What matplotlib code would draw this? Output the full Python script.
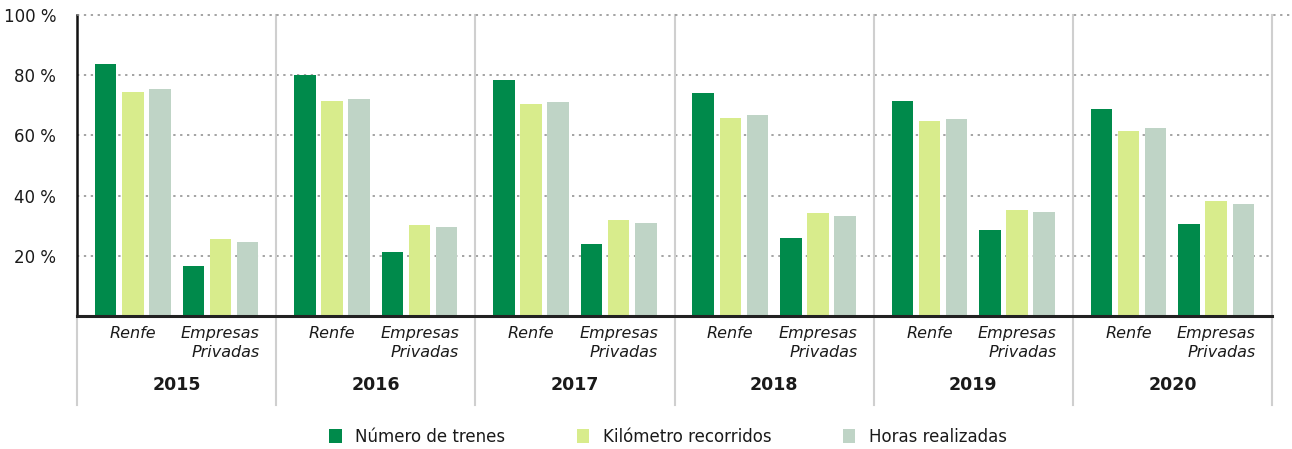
import matplotlib.pyplot as plt
from matplotlib.patches import Patch
from matplotlib.lines import Line2D
import numpy as np

# ==============================================================================
# DATA
# ==============================================================================
YEARS = ["2015", "2016", "2017", "2018", "2019", "2020"]
OPERATORS = ["Renfe", "Empresas\nPrivadas"]
SERIES = ["Número de trenes", "Kilómetro recorridos", "Horas realizadas"]

# values per year: [Renfe, Empresas Privadas]
trenes_renfe = [83.6, 80.0, 78.3, 74.1, 71.3, 68.9]
trenes_priv = [16.5, 21.4, 24.0, 25.9, 28.6, 30.7]
km_renfe = [74.5, 71.3, 70.3, 65.7, 64.8, 61.6]
km_priv = [25.6, 30.2, 31.9, 34.1, 35.2, 38.2]
horas_renfe = [75.4, 72.0, 71.1, 66.8, 65.6, 62.4]
horas_priv = [24.7, 29.7, 30.8, 33.3, 34.4, 37.3]

Y_TICKS = [20, 40, 60, 80, 100]
Y_TICK_LABELS = ["20 %", "40 %", "60 %", "80 %", "100 %"]

# ==============================================================================
# VISUAL CONFIGURATION
# ==============================================================================
COLORS = ["#008A4B", "#D8EC8C", "#BFD4C6"]
GRID_COLOR = "#8A8A8A"
SEP_COLOR = "#CFCFCF"
TEXT_COLOR = "#1A1A1A"

W, H = 1292, 449
fig = plt.figure(figsize=(W / 100, H / 100), dpi=100)
ax = fig.add_axes([77 / W, 1 - 316 / H, (1272 - 77) / W, (316 - 15) / H])

group_centers = [0.28, 0.72]
bar_w = 0.108
pitch = 0.136

series_data = [
    (trenes_renfe, trenes_priv),
    (km_renfe, km_priv),
    (horas_renfe, horas_priv),
]

x_years = np.arange(len(YEARS))
for s_idx, (renfe_vals, priv_vals) in enumerate(series_data):
    offset = (s_idx - 1) * pitch
    for g_idx, vals in enumerate([renfe_vals, priv_vals]):
        ax.bar(
            x_years + group_centers[g_idx] + offset,
            vals,
            width=bar_w,
            color=COLORS[s_idx],
            zorder=3,
        )

ax.set_xlim(0, len(YEARS))
ax.set_ylim(0, 100)

# dotted gridlines
for yv in Y_TICKS[:-1]:
    ax.axhline(yv, color=GRID_COLOR, linestyle=(0, (1.5, 3)), linewidth=1.1, zorder=1)
# top gridline runs a bit past the axes
fig.add_artist(
    Line2D(
        [77 / W, 1290 / W],
        [1 - 15 / H, 1 - 15 / H],
        color=GRID_COLOR,
        linestyle=(0, (1.5, 3)),
        linewidth=1.1,
    )
)

# vertical separators between years
y_bottom = -(405 - 316) / 3.01
for i in range(len(YEARS) + 1):
    top = 0 if i == 0 else 100
    ax.plot(
        [i, i], [top, y_bottom], color=SEP_COLOR, linewidth=1.5, clip_on=False, zorder=2
    )

# spines
for side in ["top", "right"]:
    ax.spines[side].set_visible(False)
ax.spines["left"].set_linewidth(1.8)
ax.spines["bottom"].set_linewidth(2.2)
ax.spines["left"].set_color("#111111")
ax.spines["bottom"].set_color("#222222")
ax.spines["left"].set_zorder(4)
ax.spines["bottom"].set_zorder(4)

ax.set_yticks(Y_TICKS)
ax.set_yticklabels(Y_TICK_LABELS, fontsize=12, color=TEXT_COLOR)
ax.tick_params(axis="y", length=0, pad=15)
ax.set_xticks([])

# operator and year labels
for i, year in enumerate(YEARS):
    ax.text(
        i + group_centers[0], -3.2, OPERATORS[0], ha="center", va="top",
        fontsize=11.5, style="italic", color=TEXT_COLOR,
    )
    ax.text(
        i + group_centers[1], -3.2, OPERATORS[1], ha="center", va="top",
        fontsize=11.5, style="italic", color=TEXT_COLOR, multialignment="right",
        linespacing=1.4,
    )
    ax.text(
        i + 0.5, -23, year, ha="center", va="center",
        fontsize=12.5, fontweight="bold", color=TEXT_COLOR,
    )

# legend
handles = [Patch(facecolor=c, edgecolor="none") for c in COLORS]
fig.legend(
    handles,
    SERIES,
    loc="center",
    bbox_to_anchor=(0.517, 1 - 437 / H),
    ncol=3,
    frameon=False,
    fontsize=12,
    handlelength=0.75,
    handleheight=0.9,
    handletextpad=0.8,
    columnspacing=4.3,
    labelcolor=TEXT_COLOR,
)

fig.savefig("out.png", dpi=100)
